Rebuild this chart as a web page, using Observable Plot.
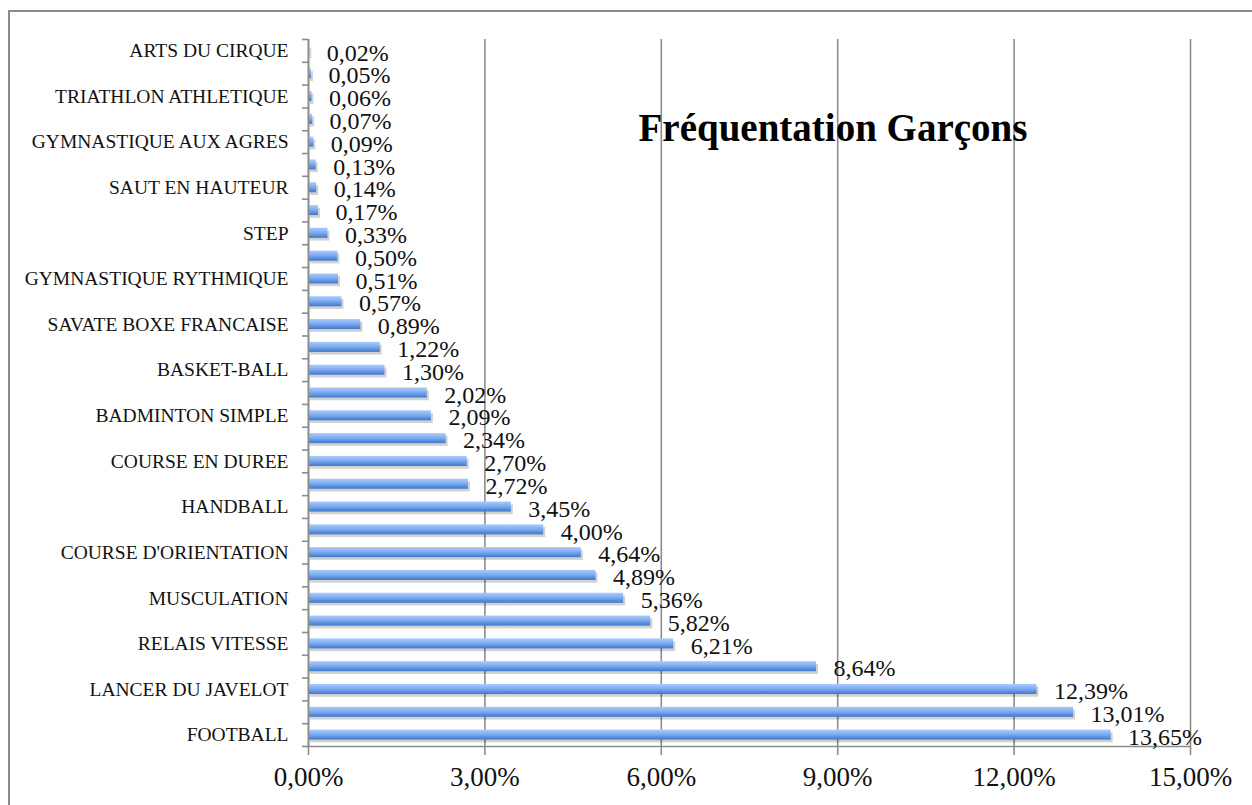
<!DOCTYPE html>
<html>
<head>
<meta charset="utf-8">
<script src="https://cdn.jsdelivr.net/npm/d3@7"></script>
<script src="https://cdn.jsdelivr.net/npm/@observablehq/plot@0.6"></script>
<style>
  html, body { margin: 0; padding: 0; background: #fff; }
  #wrap { position: relative; width: 1252px; height: 805px; overflow: hidden; }
  #frame { position: absolute; left: 8px; top: 10px; width: 1300px; height: 900px; border: 2px solid #8a8a8a; box-sizing: border-box; }
  #chart { position: absolute; left: 0; top: 0; }
  #chart svg g[aria-label="bar-shadow"] { filter: blur(1.5px); }
</style>
</head>
<body>
<div id="wrap"><div id="frame"></div><div id="chart"></div></div>
<script>
// Categories from top to bottom ("" = label not shown on the axis)
const categories = [
  "ARTS DU CIRQUE", "", "TRIATHLON ATHLETIQUE", "", "GYMNASTIQUE AUX AGRES", "",
  "SAUT EN HAUTEUR", "", "STEP", "", "GYMNASTIQUE RYTHMIQUE", "",
  "SAVATE BOXE FRANCAISE", "", "BASKET-BALL", "", "BADMINTON SIMPLE", "",
  "COURSE EN DUREE", "", "HANDBALL", "", "COURSE D'ORIENTATION", "",
  "MUSCULATION", "", "RELAIS VITESSE", "", "LANCER DU JAVELOT", "", "FOOTBALL"
];
// Percent values, same order
const values = [
  0.02, 0.05, 0.06, 0.07, 0.09, 0.13, 0.14, 0.17, 0.33, 0.50, 0.51, 0.57,
  0.89, 1.22, 1.30, 2.02, 2.09, 2.34, 2.70, 2.72, 3.45, 4.00, 4.64, 4.89,
  5.36, 5.82, 6.21, 8.64, 12.39, 13.01, 13.65
];
const xTicks = [0, 3, 6, 9, 12, 15];
const title = "Fréquentation Garçons";

const data = values.map((v, i) => ({i, value: v, label: categories[i]}));
const fmt = v => v.toFixed(2).replace(".", ",") + "%";
const half = 0.22;
const serif = "'Liberation Serif', 'Times New Roman', serif";

const chart = Plot.plot({
  width: 1252,
  height: 805,
  marginLeft: 308,
  marginRight: 62,
  marginTop: 39,
  marginBottom: 59,
  style: {fontFamily: serif, background: "transparent", overflow: "visible"},
  x: {domain: [0, 15], label: null, axis: null},
  y: {domain: [-0.5, values.length - 0.5], reverse: true, label: null, axis: null},
  marks: [
    Plot.gridX(xTicks, {stroke: "#8c8c8c", strokeOpacity: 1, strokeWidth: 1.6}),
    Plot.rectX(data, {x1: 0, x2: "value", y1: d => d.i - half + 0.12, y2: d => d.i + half + 0.12, dx: 2, fill: "#000", fillOpacity: 0.18, ariaLabel: "bar-shadow"}),
    Plot.rectX(data, {x1: 0, x2: "value", y1: d => d.i - half, y2: d => d.i + half, fill: "url(#barGrad)"}),
    Plot.ruleX([0], {stroke: "#8c8c8c", strokeWidth: 1.6}),
    Plot.ruleY([values.length - 0.5], {stroke: "#8c8c8c", strokeWidth: 1.6}),
    Plot.axisY(d3.range(-0.5, values.length), {tickSize: 6, tickFormat: () => "", label: null, stroke: "#8c8c8c", strokeWidth: 1.6}),
    Plot.axisY(d3.range(values.length), {tickSize: 0, tickPadding: 20, tickFormat: i => categories[i], label: null, fontSize: 19.5, fill: "#111"}),
    Plot.axisX(xTicks, {tickSize: 9, tickPadding: 11, tickFormat: fmt, label: null, fontSize: 27, stroke: "#8c8c8c", strokeWidth: 1.6, fill: "#111"}),
    Plot.text(data, {x: "value", y: "i", text: d => fmt(d.value), dx: 17, dy: 2, textAnchor: "start", fontSize: 24, fill: "#111"}),
    Plot.text([title], {frameAnchor: "top-left", dx: 330, dy: 74, textAnchor: "start", fontSize: 39, fontWeight: "bold", fill: "#000"})
  ]
});

// gradient for bars
const svg = d3.select(chart);
const defs = svg.insert("defs", ":first-child");
const g = defs.append("linearGradient").attr("id", "barGrad").attr("x1", 0).attr("y1", 0).attr("x2", 0).attr("y2", 1);
g.append("stop").attr("offset", "0%").attr("stop-color", "#a9cbfb");
g.append("stop").attr("offset", "45%").attr("stop-color", "#80aef2");
g.append("stop").attr("offset", "100%").attr("stop-color", "#3f77cc");

document.getElementById("chart").appendChild(chart);
</script>
</body>
</html>
